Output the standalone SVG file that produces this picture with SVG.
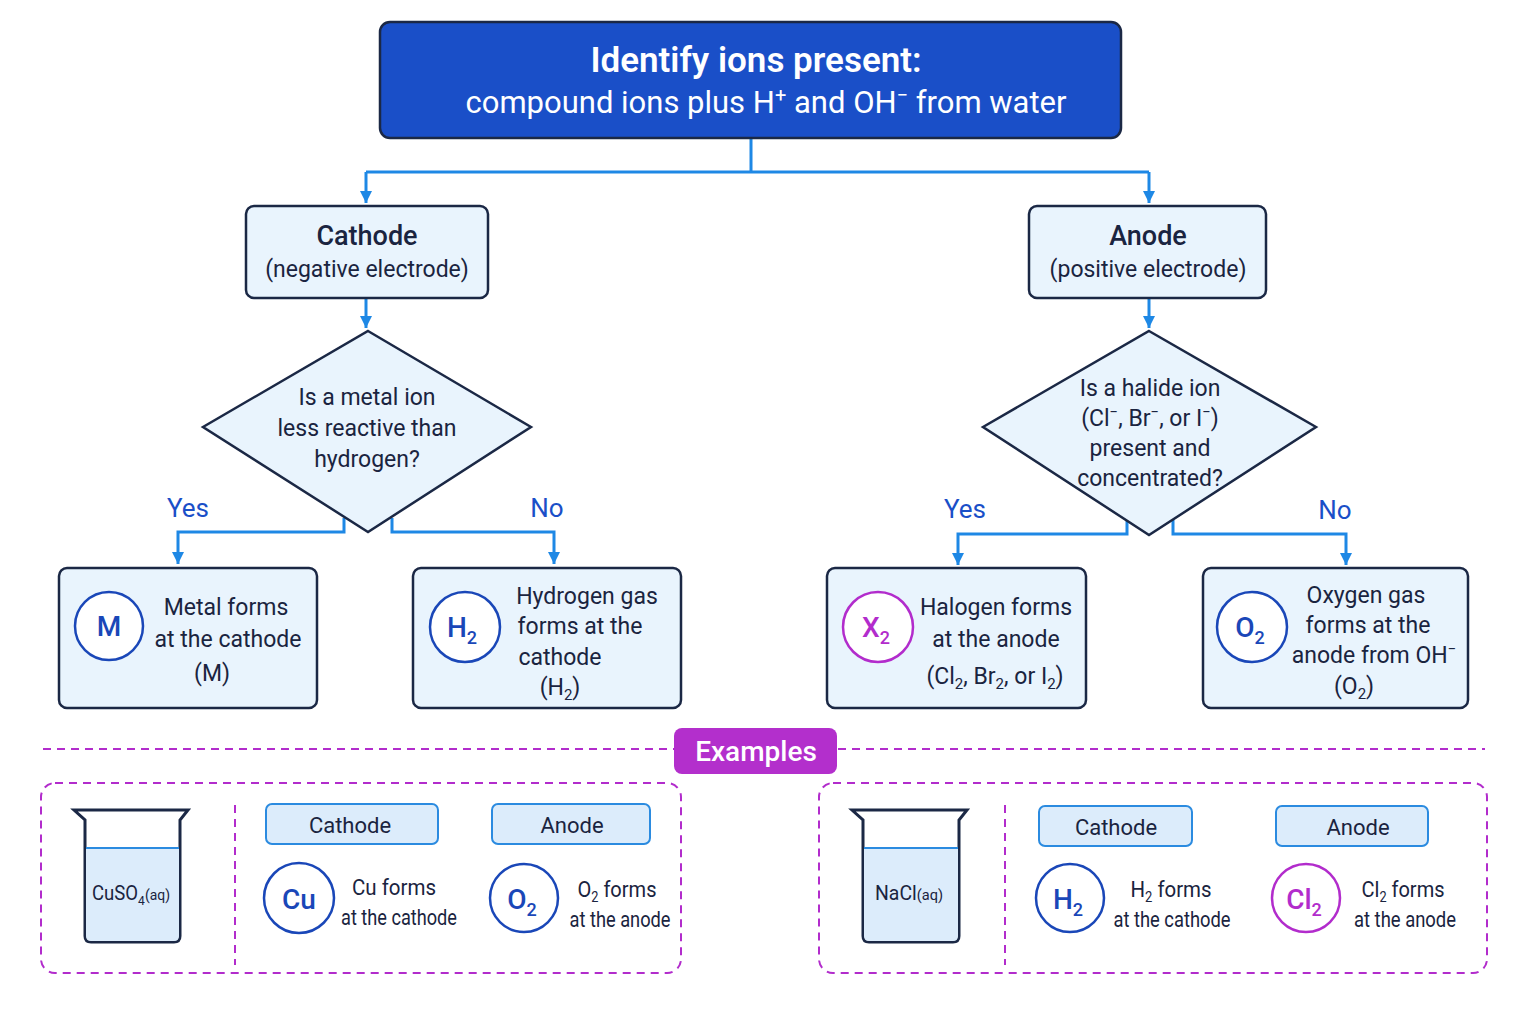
<svg xmlns="http://www.w3.org/2000/svg" width="1536" height="1024" viewBox="0 0 1536 1024">
<defs>
<style>
text{font-family:Roboto,"Liberation Sans",sans-serif;fill:#1a2440;text-anchor:middle}
.node{fill:#e9f4fd;stroke:#1b2845;stroke-width:2.5}
.conn{fill:none;stroke:#1e88e5;stroke-width:3}
.t{font-size:23px}
.h{font-size:27px;font-weight:500}
.yn{font-size:26px;fill:#1a4fc8}
.cb{fill:#fff;stroke:#1a47b8;stroke-width:2.5}
.cp{fill:#fff;stroke:#b22ccc;stroke-width:2.5}
.ct{font-size:28px;font-weight:500;fill:#1a47b8}
.cpt{font-size:28px;font-weight:500;fill:#b22ccc}
.dash{fill:none;stroke:#b22ccc;stroke-width:2;stroke-dasharray:8 6}
.tab{fill:#dcecfb;stroke:#2b8be0;stroke-width:2}
.e{font-size:22px}
.beaker{fill:#fff;stroke:#1b2845;stroke-width:3}
</style>
<marker id="ad" viewBox="0 0 10 10" refX="5" refY="10" markerWidth="14" markerHeight="12" markerUnits="userSpaceOnUse"><path d="M0,0L10,0L5,10z" fill="#1e88e5"/></marker>
</defs>
<rect width="1536" height="1024" fill="#fff"/>
<g id="connectors">
<path class="conn" d="M751,138V172M366,172H1149"/>
<path class="conn" d="M366,172V203" marker-end="url(#ad)"/>
<path class="conn" d="M1149,172V203" marker-end="url(#ad)"/>
<path class="conn" d="M366,298V328" marker-end="url(#ad)"/>
<path class="conn" d="M1149,298V328" marker-end="url(#ad)"/>
<path class="conn" d="M344,518V532H178V564" marker-end="url(#ad)"/>
<path class="conn" d="M392,518V532H554V564" marker-end="url(#ad)"/>
<path class="conn" d="M1127,520V534H958V565" marker-end="url(#ad)"/>
<path class="conn" d="M1173,520V534H1346V565" marker-end="url(#ad)"/>
<text class="yn" x="188" y="517">Yes</text>
<text class="yn" x="547" y="517">No</text>
<text class="yn" x="965" y="518">Yes</text>
<text class="yn" x="1335" y="519">No</text>
</g>
<g id="title">
<rect x="380" y="22" width="741" height="116" rx="10" fill="#1a4fc8" stroke="#1b2845" stroke-width="2.5"/>
<text x="756" y="72" style="font-size:35px;font-weight:600;fill:#fff">Identify ions present:</text>
<text x="766" y="113" style="font-size:31px;fill:#fff">compound ions plus H<tspan font-size="20" dy="-11">+</tspan><tspan dy="11"> and OH</tspan><tspan font-size="20" dy="-11">−</tspan><tspan dy="11"> from water</tspan></text>
</g>
<g id="cathode">
<rect class="node" x="246" y="206" width="242" height="92" rx="8"/>
<text class="h" x="367" y="245">Cathode</text>
<text class="t" x="367" y="277">(negative electrode)</text>
</g>
<g id="anode">
<rect class="node" x="1029" y="206" width="237" height="92" rx="8"/>
<text class="h" x="1148" y="245">Anode</text>
<text class="t" x="1148" y="277">(positive electrode)</text>
</g>
<g id="q1">
<path class="node" d="M368,331L531,427L368,532L203,427Z"/>
<text class="t" x="367" y="405">Is a metal ion</text>
<text class="t" x="367" y="436">less reactive than</text>
<text class="t" x="367" y="467">hydrogen?</text>
</g>
<g id="q2">
<path class="node" d="M1149,331L1316,427L1149,535L983,427Z"/>
<text class="t" x="1150" y="396">Is a halide ion</text>
<text class="t" x="1150" y="426">(Cl<tspan font-size="15" dy="-9">−</tspan><tspan dy="9">, Br</tspan><tspan font-size="15" dy="-9">−</tspan><tspan dy="9">, or I</tspan><tspan font-size="15" dy="-9">−</tspan><tspan dy="9">)</tspan></text>
<text class="t" x="1150" y="456">present and</text>
<text class="t" x="1150" y="486">concentrated?</text>
</g>
<g id="r1">
<rect class="node" x="59" y="568" width="258" height="140" rx="8"/>
<circle class="cb" cx="109" cy="626" r="34"/>
<text class="ct" x="109" y="636">M</text>
<text class="t" x="226" y="615">Metal forms</text>
<text class="t" x="228" y="647">at the cathode</text>
<text class="t" x="212" y="681">(M)</text>
</g>
<g id="r2">
<rect class="node" x="413" y="568" width="268" height="140" rx="8"/>
<circle class="cb" cx="465" cy="627" r="35"/>
<text class="ct" x="462" y="637">H<tspan font-size="18" dy="7">2</tspan></text>
<text class="t" x="587" y="604">Hydrogen gas</text>
<text class="t" x="580" y="634">forms at the</text>
<text class="t" x="560" y="665">cathode</text>
<text class="t" x="560" y="695">(H<tspan font-size="15" dy="5">2</tspan><tspan dy="-5">)</tspan></text>
</g>
<g id="r3">
<rect class="node" x="827" y="568" width="259" height="140" rx="8"/>
<circle class="cp" cx="878" cy="627" r="35"/>
<text class="cpt" x="876" y="637">X<tspan font-size="18" dy="7">2</tspan></text>
<text class="t" x="996" y="615">Halogen forms</text>
<text class="t" x="996" y="647">at the anode</text>
<text class="t" x="995" y="684">(Cl<tspan font-size="15" dy="5">2</tspan><tspan dy="-5">, Br</tspan><tspan font-size="15" dy="5">2</tspan><tspan dy="-5">, or I</tspan><tspan font-size="15" dy="5">2</tspan><tspan dy="-5">)</tspan></text>
</g>
<g id="r4">
<rect class="node" x="1203" y="568" width="265" height="140" rx="8"/>
<circle class="cb" cx="1252" cy="627" r="35"/>
<text class="ct" x="1250" y="637">O<tspan font-size="18" dy="7">2</tspan></text>
<text class="t" x="1366" y="603">Oxygen gas</text>
<text class="t" x="1368" y="633">forms at the</text>
<text class="t" x="1374" y="663">anode from OH<tspan font-size="15" dy="-9">−</tspan></text>
<text class="t" x="1354" y="694">(O<tspan font-size="15" dy="5">2</tspan><tspan dy="-5">)</tspan></text>
</g>
<g id="examples">
<path class="dash" d="M43,749H675M838,749H1485"/>
<rect x="674" y="728" width="163" height="46" rx="8" fill="#b32fcc"/>
<text x="756" y="761" style="font-size:28px;font-weight:500;fill:#fff">Examples</text>
</g>
<g id="ex1">
<rect class="dash" x="41" y="783" width="640" height="190" rx="14"/>
<path class="beaker" d="M74,810H188L180,820V936Q180,942 174,942H91Q85,942 85,936V820Z"/>
<path d="M86,848H179V936Q179,941 174,941H91Q86,941 86,936Z" fill="#dcecfb"/>
<line x1="86" y1="848" x2="179" y2="848" stroke="#2b8be0" stroke-width="2"/>
<text x="131" y="900" style="font-size:20px" textLength="78" lengthAdjust="spacingAndGlyphs">CuSO<tspan font-size="13" dy="5">4</tspan><tspan font-size="15" dy="-5">(aq)</tspan></text>
<line x1="235" y1="805" x2="235" y2="965" class="dash"/>
<rect class="tab" x="266" y="804" width="172" height="40" rx="6"/>
<text class="e" x="350" y="833">Cathode</text>
<rect class="tab" x="492" y="804" width="158" height="40" rx="6"/>
<text class="e" x="572" y="833">Anode</text>
<circle class="cb" cx="299" cy="898" r="35"/>
<text class="ct" x="299" y="909">Cu</text>
<text class="e" x="394" y="895" textLength="84" lengthAdjust="spacingAndGlyphs">Cu forms</text>
<text class="e" x="399" y="925" textLength="116" lengthAdjust="spacingAndGlyphs">at the cathode</text>
<circle class="cb" cx="524" cy="898" r="34"/>
<text class="ct" x="522" y="909">O<tspan font-size="18" dy="7">2</tspan></text>
<text class="e" x="617" y="897" textLength="79" lengthAdjust="spacingAndGlyphs">O<tspan font-size="14" dy="5">2</tspan><tspan dy="-5"> forms</tspan></text>
<text class="e" x="620" y="927" textLength="101" lengthAdjust="spacingAndGlyphs">at the anode</text>
</g>
<g id="ex2">
<rect class="dash" x="819" y="783" width="668" height="190" rx="14"/>
<path class="beaker" d="M852,810H967L959,820V936Q959,942 953,942H869Q863,942 863,936V820Z"/>
<path d="M864,848H958V936Q958,941 953,941H869Q864,941 864,936Z" fill="#dcecfb"/>
<line x1="864" y1="848" x2="958" y2="848" stroke="#2b8be0" stroke-width="2"/>
<text x="909" y="900" style="font-size:20px" textLength="68" lengthAdjust="spacingAndGlyphs">NaCl<tspan font-size="15">(aq)</tspan></text>
<line x1="1005" y1="805" x2="1005" y2="965" class="dash"/>
<rect class="tab" x="1039" y="806" width="153" height="40" rx="6"/>
<text class="e" x="1116" y="835">Cathode</text>
<rect class="tab" x="1276" y="806" width="152" height="40" rx="6"/>
<text class="e" x="1358" y="835">Anode</text>
<circle class="cb" cx="1070" cy="898" r="34"/>
<text class="ct" x="1068" y="909">H<tspan font-size="18" dy="7">2</tspan></text>
<text class="e" x="1171" y="897" textLength="81" lengthAdjust="spacingAndGlyphs">H<tspan font-size="14" dy="5">2</tspan><tspan dy="-5"> forms</tspan></text>
<text class="e" x="1172" y="927" textLength="117" lengthAdjust="spacingAndGlyphs">at the cathode</text>
<circle class="cp" cx="1306" cy="898" r="34"/>
<text class="cpt" x="1304" y="909">Cl<tspan font-size="18" dy="7">2</tspan></text>
<text class="e" x="1403" y="897" textLength="83" lengthAdjust="spacingAndGlyphs">Cl<tspan font-size="14" dy="5">2</tspan><tspan dy="-5"> forms</tspan></text>
<text class="e" x="1405" y="927" textLength="102" lengthAdjust="spacingAndGlyphs">at the anode</text>
</g>
</svg>
